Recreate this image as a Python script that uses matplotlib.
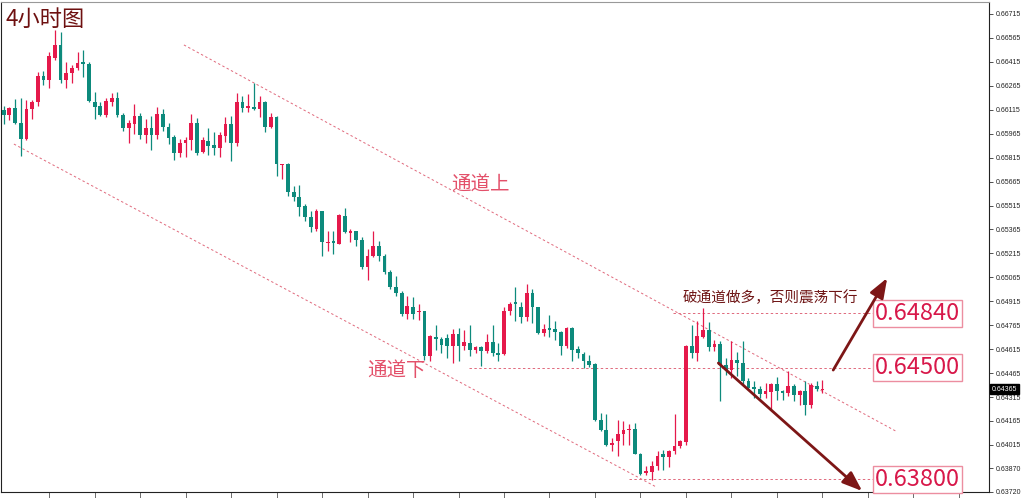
import numpy as np
import matplotlib
matplotlib.use("Agg")
import matplotlib.pyplot as plt
import matplotlib.transforms as mtransforms

plt.rcParams['font.family'] = ['Noto Sans CJK SC', 'DejaVu Sans']

# 4h candles, oldest first
opens = [0.66114, 0.66083, 0.66127, 0.66033, 0.65934, 0.66121, 0.66164, 0.66326, 0.66301, 0.66438,
         0.66519, 0.66301, 0.66345, 0.66376, 0.66413, 0.66401, 0.66164, 0.66139, 0.66083, 0.66164,
         0.66189, 0.66083, 0.66002, 0.66027, 0.66077, 0.65959, 0.66002, 0.65959, 0.66089, 0.66009,
         0.65946, 0.65841, 0.65909, 0.65928, 0.66033, 0.65853, 0.65921, 0.65897, 0.65878, 0.65953,
         0.66027, 0.65909, 0.66164, 0.66127, 0.66133, 0.66121, 0.66164, 0.66009, 0.66071, 0.65766,
         0.65778, 0.65598, 0.65567, 0.65511, 0.65442, 0.65368, 0.65480, 0.65280, 0.65293, 0.65274,
         0.65448, 0.65343, 0.65355, 0.65299, 0.65131, 0.65199, 0.65262, 0.65199, 0.65100, 0.65007,
         0.64969, 0.64838, 0.64882, 0.64845, 0.64857, 0.64571, 0.64689, 0.64677, 0.64683, 0.64633,
         0.64708, 0.64633, 0.64652, 0.64608, 0.64627, 0.64602, 0.64658, 0.64590, 0.64583, 0.64857,
         0.64913, 0.64882, 0.64814, 0.64969, 0.64876, 0.64714, 0.64745, 0.64739, 0.64720, 0.64633,
         0.64745, 0.64614, 0.64583, 0.64540, 0.64521, 0.64172, 0.64110, 0.64017, 0.64042, 0.64085,
         0.64110, 0.64116, 0.63961, 0.63836, 0.63843, 0.63880, 0.63955, 0.63942, 0.63980, 0.64011,
         0.64036, 0.64633, 0.64590, 0.64689, 0.64733, 0.64627, 0.64646, 0.64515, 0.64484, 0.64546,
         0.64527, 0.64415, 0.64378, 0.64365, 0.64334, 0.64347, 0.64397, 0.64353, 0.64341, 0.64384,
         0.64328, 0.64353, 0.64266, 0.64384, 0.64360]
highs = [0.66139, 0.66133, 0.66183, 0.66189, 0.66177, 0.66177, 0.66351, 0.66357, 0.66475, 0.66612,
         0.66600, 0.66413, 0.66394, 0.66475, 0.66488, 0.66413, 0.66226, 0.66164, 0.66189, 0.66220,
         0.66226, 0.66096, 0.66052, 0.66152, 0.66096, 0.66058, 0.66077, 0.66133, 0.66121, 0.66033,
         0.65959, 0.65934, 0.65946, 0.66089, 0.66065, 0.65946, 0.66002, 0.65977, 0.65977, 0.66071,
         0.66077, 0.66220, 0.66201, 0.66214, 0.66282, 0.66201, 0.66170, 0.66096, 0.66077, 0.65778,
         0.65784, 0.65635, 0.65641, 0.65523, 0.65480, 0.65492, 0.65480, 0.65355, 0.65355, 0.65461,
         0.65498, 0.65368, 0.65355, 0.65318, 0.65243, 0.65355, 0.65293, 0.65212, 0.65112, 0.65075,
         0.64982, 0.64951, 0.64944, 0.64901, 0.64857, 0.64702, 0.64764, 0.64689, 0.64708, 0.64739,
         0.64745, 0.64733, 0.64764, 0.64633, 0.64633, 0.64708, 0.64764, 0.64652, 0.64882, 0.64913,
         0.65007, 0.64913, 0.65025, 0.64994, 0.64882, 0.64770, 0.64826, 0.64789, 0.64726, 0.64751,
         0.64751, 0.64633, 0.64596, 0.64577, 0.64527, 0.64216, 0.64210, 0.64060, 0.64172, 0.64166,
         0.64148, 0.64154, 0.63967, 0.63886, 0.63917, 0.63980, 0.63986, 0.63986, 0.64210, 0.64048,
         0.64639, 0.64764, 0.64789, 0.64870, 0.64782, 0.64670, 0.64664, 0.64558, 0.64664, 0.64596,
         0.64664, 0.64434, 0.64415, 0.64384, 0.64403, 0.64403, 0.64440, 0.64359, 0.64477, 0.64397,
         0.64359, 0.64415, 0.64403, 0.64415, 0.64421]
lows = [0.66027, 0.66052, 0.66027, 0.65828, 0.65928, 0.66058, 0.66139, 0.66270, 0.66251, 0.66426,
        0.66282, 0.66251, 0.66282, 0.66363, 0.66320, 0.66164, 0.66058, 0.66077, 0.66071, 0.66139,
        0.66071, 0.65984, 0.65909, 0.65965, 0.65934, 0.65909, 0.65865, 0.65934, 0.65984, 0.65903,
        0.65797, 0.65822, 0.65822, 0.65865, 0.65834, 0.65847, 0.65834, 0.65834, 0.65822, 0.65915,
        0.65791, 0.65890, 0.66102, 0.66102, 0.66114, 0.66071, 0.65977, 0.66002, 0.65697, 0.65679,
        0.65573, 0.65542, 0.65448, 0.65417, 0.65349, 0.65355, 0.65199, 0.65231, 0.65212, 0.65274,
        0.65343, 0.65287, 0.65262, 0.65119, 0.65050, 0.65193, 0.65168, 0.65087, 0.64994, 0.64951,
        0.64820, 0.64807, 0.64807, 0.64795, 0.64546, 0.64540, 0.64608, 0.64590, 0.64558, 0.64527,
        0.64540, 0.64608, 0.64571, 0.64590, 0.64509, 0.64590, 0.64571, 0.64540, 0.64577, 0.64826,
        0.64789, 0.64776, 0.64789, 0.64776, 0.64708, 0.64695, 0.64689, 0.64670, 0.64577, 0.64621,
        0.64540, 0.64558, 0.64496, 0.64502, 0.64166, 0.64104, 0.64011, 0.63979, 0.63948, 0.64017,
        0.64017, 0.63955, 0.63824, 0.63824, 0.63793, 0.63855, 0.63855, 0.63874, 0.63961, 0.63998,
        0.64017, 0.64558, 0.64540, 0.64683, 0.64602, 0.64602, 0.64291, 0.64453, 0.64434, 0.64446,
        0.64390, 0.64359, 0.64309, 0.64309, 0.64309, 0.64235, 0.64297, 0.64297, 0.64322, 0.64291,
        0.64266, 0.64204, 0.64247, 0.64353, 0.64340]
closes = [0.66083, 0.66127, 0.66033, 0.65934, 0.66121, 0.66164, 0.66326, 0.66301, 0.66450, 0.66519,
          0.66301, 0.66345, 0.66376, 0.66407, 0.66401, 0.66170, 0.66133, 0.66083, 0.66170, 0.66189,
          0.66083, 0.66002, 0.66033, 0.66077, 0.65959, 0.66002, 0.65959, 0.66089, 0.66009, 0.65940,
          0.65841, 0.65909, 0.65928, 0.66033, 0.65847, 0.65928, 0.65890, 0.65878, 0.65959, 0.66027,
          0.65909, 0.66164, 0.66127, 0.66139, 0.66121, 0.66164, 0.66009, 0.66071, 0.65772, 0.65772,
          0.65598, 0.65567, 0.65504, 0.65442, 0.65380, 0.65480, 0.65287, 0.65287, 0.65280, 0.65455,
          0.65349, 0.65355, 0.65299, 0.65131, 0.65199, 0.65262, 0.65199, 0.65100, 0.65007, 0.64969,
          0.64838, 0.64888, 0.64838, 0.64851, 0.64571, 0.64695, 0.64677, 0.64639, 0.64633, 0.64708,
          0.64633, 0.64658, 0.64608, 0.64627, 0.64602, 0.64658, 0.64590, 0.64577, 0.64857, 0.64895,
          0.64895, 0.64814, 0.64969, 0.64882, 0.64714, 0.64739, 0.64733, 0.64720, 0.64633, 0.64745,
          0.64608, 0.64590, 0.64540, 0.64515, 0.64172, 0.64110, 0.64017, 0.64029, 0.64085, 0.64110,
          0.64116, 0.63955, 0.63830, 0.63849, 0.63880, 0.63948, 0.63942, 0.63980, 0.64011, 0.64042,
          0.64633, 0.64590, 0.64695, 0.64733, 0.64627, 0.64646, 0.64515, 0.64484, 0.64546, 0.64527,
          0.64415, 0.64372, 0.64365, 0.64334, 0.64353, 0.64397, 0.64353, 0.64341, 0.64384, 0.64328,
          0.64353, 0.64266, 0.64390, 0.64365, 0.64365]

ytick_vals = [0.66715, 0.66565, 0.66415, 0.66265, 0.66115, 0.65965, 0.65815, 0.65665, 0.65515,
              0.65365, 0.65215, 0.65065, 0.64915, 0.64765, 0.64615, 0.64465, 0.64315, 0.64165,
              0.64015, 0.63870, 0.63720]
levels = [0.64840, 0.64500, 0.63800]
level_start = [117.8, 81.8, 109.9]
last_price = 0.64365

# channel lines (candle index, price)
upper_chan = ([31.7, 157.2], [0.66521, 0.64096])
lower_chan = ([1.8, 114.8], [0.65900, 0.63751])

red = '#e5194b'
teal = '#0d8a7c'
dash_col = '#e0697c'
dark = '#7d1616'

fig = plt.figure(figsize=(10.24, 4.98), dpi=100)
ax = fig.add_axes([1 / 1024, 6 / 498, 988 / 1024, 490 / 498])

x = np.arange(len(opens))
o = np.array(opens)
c = np.array(closes)
up = c >= o
cols = np.where(up, red, teal)

ax.vlines(x, lows, highs, colors=cols, linewidth=0.9, zorder=3)
body_low = np.minimum(o, c)
body_h = np.maximum(np.abs(c - o), 0.000025)
ax.bar(x, body_h, bottom=body_low, width=0.66, color=cols, linewidth=0, zorder=4)

# channel and level lines
ax.plot(upper_chan[0], upper_chan[1], color=dash_col, lw=0.7, ls=(0, (2.5, 2.5)), zorder=2)
ax.plot(lower_chan[0], lower_chan[1], color=dash_col, lw=0.7, ls=(0, (2.5, 2.5)), zorder=2)
for lv, xs in zip(levels, level_start):
    ax.plot([xs, 153.3], [lv, lv], color=dash_col, lw=0.7, ls=(0, (2.5, 2.5)), zorder=2)
    ax.text(160.7, lv, '%.5f' % lv, color='#d8184a', fontsize=17, ha='center', va='center',
            family=['Noto Sans CJK SC', 'DejaVu Sans'], zorder=6,
            bbox=dict(boxstyle='square,pad=0.08', fc='white', ec='#ec8ea0', lw=1.0))

ax.text(83.9, 0.65650, '通道上', color='#e3506a', fontsize=14, ha='center', va='center')
ax.text(69.0, 0.64484, '通道下', color='#e3506a', fontsize=14, ha='center', va='center')
ax.text(134.9, 0.64936, '破通道做多，否则震荡下行', color='#6e1414', fontsize=10.5,
        ha='center', va='center')

ax.annotate('', xy=(155.4, 0.65061), xytext=(145.9, 0.64484),
            arrowprops=dict(arrowstyle='-|>,head_length=0.75,head_width=0.28', color=dark,
                            lw=2.0, shrinkA=0, shrinkB=0, mutation_scale=16), zorder=7)
ax.annotate('', xy=(151.0, 0.63726), xytext=(125.7, 0.64528),
            arrowprops=dict(arrowstyle='-|>,head_length=0.75,head_width=0.28', color=dark,
                            lw=2.0, shrinkA=0, shrinkB=0, mutation_scale=16), zorder=7)

fig.text(5 / 1024, 1 - 19 / 498, '4小时图', color='#6e1010', fontsize=16, ha='left', va='center')

ax.set_xlim(-0.47, 173.3)
ax.set_ylim(0.6372, 0.6679)
ax.set_xticks(np.arange(8, 173, 8))
ax.set_xticklabels([])
ax.set_yticks(ytick_vals)
ax.set_yticklabels(['%.5f' % v for v in ytick_vals])
ax.yaxis.tick_right()
ax.tick_params(axis='y', direction='out', length=3, width=0.6, pad=2, labelsize=5,
               labelcolor='#222222', colors='#333333')
ax.tick_params(axis='x', direction='out', length=4, width=0.6, colors='#555555')
for lab in ax.get_yticklabels():
    lab.set_family('Liberation Sans')

for s in ['left', 'right', 'bottom']:
    ax.spines[s].set_color('#222222')
    ax.spines[s].set_linewidth(0.8)
ax.spines['top'].set_color('#999999')

# current price tag on the axis
trans = mtransforms.blended_transform_factory(ax.transAxes, ax.transData)
ax.text(1.003, last_price, '%.5f' % last_price, transform=trans, color='white', fontsize=5,
        family='Liberation Sans', ha='left', va='center', clip_on=False, zorder=8,
        bbox=dict(boxstyle='square,pad=0.25', fc='black', ec='black'))

fig.savefig('out.png', dpi=100, facecolor='white')
